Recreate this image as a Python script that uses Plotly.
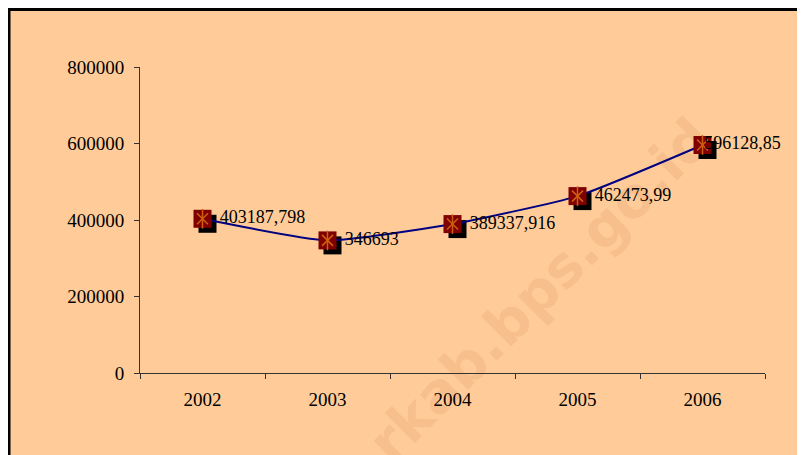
import base64
import plotly.graph_objects as go

# data
years = ["2002", "2003", "2004", "2005", "2006"]
values = [403187.798, 346693, 389337.916, 462473.99, 596128.85]
labels = ["403187,798", "346693", "389337,916", "462473,99", "596128,85"]
y_ticks = [0, 200000, 400000, 600000, 800000]
watermark = "rkab.bps.go.id"

# page body has an 8px margin, so the figure is 8px smaller than the window
W, H = 797, 447
L, R, T, B = 132, 40, 59, 82
pw, ph = W - L - R, H - T - B
ymax = 800000

# shadow offset of markers, in pixels -> axis units
sx, sy = 5, 5
dx = sx * len(years) / pw
dy = sy * ymax / ph

fig = go.Figure()

# black drop shadow (drawn on the hidden, shifted base axes -> underneath)
fig.add_trace(go.Scatter(
    x=years, y=values, mode="markers", xaxis="x", yaxis="y",
    marker=dict(symbol="square", size=18, color="black"),
    hoverinfo="skip", showlegend=False))

# the line
fig.add_trace(go.Scatter(
    x=years, y=values, mode="lines", xaxis="x2", yaxis="y2",
    line=dict(color="#000080", width=2, shape="spline", smoothing=0.5),
    showlegend=False))

# square markers
fig.add_trace(go.Scatter(
    x=years, y=values, mode="markers", xaxis="x2", yaxis="y2",
    marker=dict(symbol="square", size=18, color="#800000"),
    showlegend=False))

# star inside marker: diagonals + vertical
star = "#CC6010"
fig.add_trace(go.Scatter(
    x=years, y=values, mode="markers", xaxis="x2", yaxis="y2",
    marker=dict(symbol="x-thin-open", size=11, color=star, line=dict(color=star, width=1.5)),
    hoverinfo="skip", showlegend=False))
fig.add_trace(go.Scatter(
    x=years, y=values, mode="markers", xaxis="x2", yaxis="y2",
    marker=dict(symbol="line-ns-open", size=14, color=star, line=dict(color=star, width=1.5)),
    hoverinfo="skip", showlegend=False))

# value labels (invisible marker size sets the text offset; last one squeezed left)
fig.add_trace(go.Scatter(
    x=years, y=values, mode="markers+text", xaxis="x2", yaxis="y2",
    marker=dict(size=[26, 26, 26, 26, 1], opacity=0),
    text=labels, textposition="middle right", cliponaxis=False,
    textfont=dict(family="Liberation Serif", size=18, color="black"),
    hoverinfo="skip", showlegend=False))

# helpers: figure pixels -> paper coords
def px_x(p):
    return (p - L) / pw

def px_y(p):
    return (H - B - p) / ph

# black frame on top and left edge
fig.add_shape(type="line", xref="paper", yref="paper",
              x0=px_x(0), x1=px_x(W + 10), y0=px_y(1.5), y1=px_y(1.5),
              line=dict(color="black", width=3))
fig.add_shape(type="line", xref="paper", yref="paper",
              x0=px_x(1), x1=px_x(1), y0=px_y(0), y1=px_y(H + 10),
              line=dict(color="black", width=3))

# watermark as an svg image underneath the traces
cx, cy = 532, 282
svg = (f'<svg xmlns="http://www.w3.org/2000/svg" width="{W}" height="{H}">'
       f'<text x="{cx}" y="{cy}" transform="rotate(-45 {cx} {cy})" '
       f'text-anchor="middle" dominant-baseline="central" '
       f'font-family="DejaVu Sans" font-weight="bold" font-size="56" '
       f'fill="#F7BF8C">{watermark}</text></svg>')
fig.add_layout_image(
    source="data:image/svg+xml;base64," + base64.b64encode(svg.encode()).decode(),
    xref="paper", yref="paper", x=px_x(0), y=px_y(0),
    sizex=W / pw, sizey=H / ph, xanchor="left", yanchor="top",
    sizing="stretch", layer="below")

axis_style = dict(ticks="outside", ticklen=5, tickcolor="#333",
                  showline=True, linecolor="#333", linewidth=1,
                  showgrid=False, zeroline=False,
                  tickfont=dict(family="Liberation Serif", size=19))

fig.update_layout(
    width=W, height=H,
    margin=dict(l=L, r=R, t=T, b=B),
    paper_bgcolor="#FFCC99",
    plot_bgcolor="rgba(0,0,0,0)",
    font=dict(family="Liberation Serif", size=18, color="black"),
    xaxis=dict(type="category", visible=False,
               range=[-0.5 - dx, len(years) - 0.5 - dx]),
    yaxis=dict(visible=False, range=[dy, ymax + dy]),
    xaxis2=dict(type="category", overlaying="x", anchor="y2", side="bottom",
                range=[-0.5, len(years) - 0.5], tickson="boundaries",
                ticklabelstandoff=9, **axis_style),
    yaxis2=dict(overlaying="y", anchor="x2", side="left",
                range=[0, ymax], tickvals=y_ticks, tickformat="d",
                ticklabelstandoff=6, **axis_style),
)

fig.write_html("out.html")
